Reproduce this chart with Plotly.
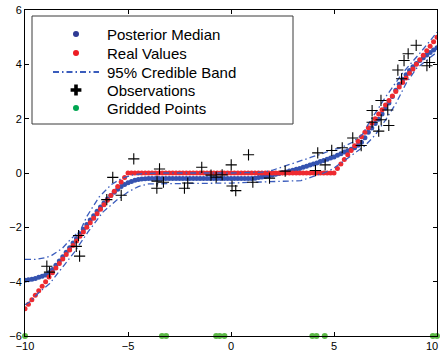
import numpy as np
import plotly.graph_objects as go

# evaluation grid (121 regularly spaced points on [-10, 10])
grid_x = np.linspace(-10, 10, 121)

real_values = [
    -5.0, -4.83, -4.67, -4.5, -4.33, -4.17, -4.0, -3.83, -3.67, -3.5,
    -3.33, -3.17, -3.0, -2.83, -2.67, -2.5, -2.33, -2.17, -2.0, -1.83,
    -1.67, -1.5, -1.33, -1.17, -1.0, -0.83, -0.67, -0.5, -0.33, -0.17,
    0.0, 0.0, 0.0, 0.0, 0.0, 0.0, 0.0, 0.0, 0.0, 0.0,
    0.0, 0.0, 0.0, 0.0, 0.0, 0.0, 0.0, 0.0, 0.0, 0.0,
    0.0, 0.0, 0.0, 0.0, 0.0, 0.0, 0.0, 0.0, 0.0, 0.0,
    0.0, 0.0, 0.0, 0.0, 0.0, 0.0, 0.0, 0.0, 0.0, 0.0,
    0.0, 0.0, 0.0, 0.0, 0.0, 0.0, 0.0, 0.0, 0.0, 0.0,
    0.0, 0.0, 0.0, 0.0, 0.0, 0.0, 0.0, 0.0, 0.0, 0.0,
    0.0, 0.17, 0.33, 0.5, 0.67, 0.83, 1.0, 1.17, 1.33, 1.5,
    1.67, 1.83, 2.0, 2.17, 2.33, 2.5, 2.67, 2.83, 3.0, 3.17,
    3.33, 3.5, 3.67, 3.83, 4.0, 4.17, 4.33, 4.5, 4.67, 4.83,
    5.0,
]

posterior_median = [
    -3.95, -3.93, -3.91, -3.88, -3.84, -3.80, -3.75, -3.67, -3.55, -3.40,
    -3.24, -3.08, -2.92, -2.75, -2.58, -2.41, -2.24, -2.07, -1.90, -1.73,
    -1.57, -1.41, -1.25, -1.10, -0.96, -0.83, -0.71, -0.60, -0.50, -0.42,
    -0.36, -0.31, -0.27, -0.24, -0.22, -0.21, -0.20, -0.20, -0.20, -0.20,
    -0.20, -0.20, -0.20, -0.20, -0.20, -0.20, -0.20, -0.20, -0.20, -0.20,
    -0.20, -0.20, -0.20, -0.20, -0.20, -0.20, -0.20, -0.20, -0.20, -0.20,
    -0.20, -0.20, -0.20, -0.20, -0.20, -0.20, -0.20, -0.19, -0.17, -0.15,
    -0.12, -0.10, -0.07, -0.05, -0.02, 0.01, 0.04, 0.07, 0.10, 0.14,
    0.17, 0.21, 0.25, 0.29, 0.33, 0.37, 0.42, 0.46, 0.51, 0.55,
    0.59, 0.65, 0.71, 0.77, 0.82, 0.87, 0.93, 1.02, 1.13, 1.30,
    1.50, 1.66, 1.82, 1.98, 2.17, 2.38, 2.58, 2.82, 3.05, 3.27,
    3.45, 3.62, 3.77, 3.91, 4.03, 4.14, 4.24, 4.34, 4.44, 4.53,
    4.61,
]

upper_x = [-10, -9.5, -9.0, -8.7, -8.2, -7.8, -7.3, -7.0, -6.4, -5.8, -5.3, -4.8,
           -4.3, -3.5, 0, 1.5, 2.0, 2.9, 3.9, 4.5, 4.9, 5.3, 5.9, 6.4, 6.7, 7.5,
           8.3, 9.2, 10]
upper_y = [-3.18, -3.18, -3.12, -3.03, -2.78, -2.45, -2.1, -1.6, -0.88, -0.42, -0.2,
           -0.08, -0.02, 0.0, 0.0, 0.03, 0.1, 0.34, 0.58, 0.73, 0.85, 0.92, 1.13,
           1.44, 1.85, 2.79, 3.65, 4.44, 5.18]

lower_x = [-10, -9.78, -9.3, -8.8, -8.17, -7.6, -6.95, -6.22, -5.57, -5.0, -4.5,
           -4.0, 0, 2.0, 3.0, 3.4, 3.9, 4.5, 4.94, 5.5, 6.0, 6.5, 7.0, 7.5, 8.0,
           8.5, 9.0, 9.5, 10]
lower_y = [-4.85, -4.75, -4.38, -4.07, -3.46, -2.91, -2.18, -1.44, -1.01, -0.7, -0.5,
           -0.4, -0.37, -0.33, -0.29, -0.28, -0.15, 0.0, 0.15, 0.45, 0.72, 1.0, 1.4,
           1.95, 2.55, 3.3, 3.85, 4.15, 4.45]

obs_x = [-8.94, -8.81, -7.40, -7.51, -7.35, -6.03, -5.74, -5.33, -4.72,
         -3.47, -3.59, -3.28, -3.60, -2.26, -2.10, -1.42, -0.97, -0.72, -0.43,
         0.01, 0.05, 0.23, 0.85, 1.06, 1.87, 2.63, 4.10, 4.21, 4.57, 4.89, 5.40,
         5.91, 6.32, 6.85, 7.17, 7.29, 7.66, 6.85, 7.61, 7.28, 8.28, 8.10, 8.40,
         8.60, 8.99, 9.51, 9.64]
obs_y = [-3.43, -3.65, -2.30, -2.70, -3.06, -0.98, -0.16, -0.82, 0.52,
         0.15, -0.30, -0.34, -0.56, -0.56, -0.37, 0.21, -0.08, -0.15, -0.07,
         0.30, -0.48, -0.65, 0.67, -0.34, -0.19, 0.07, 0.09, 0.74, 0.30, 0.83, 0.93,
         1.29, 1.01, 1.87, 1.54, 1.96, 1.75, 2.30, 2.32, 2.67, 3.47, 3.79, 4.14,
         4.39, 4.70, 3.95, 4.07]

grid_pts_x = [-10, -3.35, -3.15, -0.72, -0.55, -0.32, 3.95, 4.15, 4.55, 9.8, 10]
grid_pts_y = [-6] * len(grid_pts_x)

x_ticks = [-10, -5, 0, 5, 10]
x_tick_text = ["\u221210", "\u22125", "0", "5", ""]   # last label drawn separately below
last_x_label = "10"
y_ticks = [-6, -4, -2, 0, 2, 4, 6]

legend_labels = ["Posterior Median", "Real Values", "95% Credible Band",
                 "Observations", "Gridded Points"]

# ---- styles ----
BLUE = "#3553b0"
RED = "#ee2a30"
BAND = "#3a5cbc"
GREEN = "#5cb946"
LEG_BLUE = "#2e3a94"
LEG_RED = "#ed1c24"
LEG_GREEN = "#00a651"
DASH = "6px,3px,1.5px,3px"
TICK_FONT = dict(family="Liberation Sans", size=11, color="black")

fig = go.Figure()
fig.add_trace(go.Scatter(x=grid_x, y=posterior_median, mode="markers",
                         marker=dict(color=BLUE, size=5, line=dict(width=0))))
fig.add_trace(go.Scatter(x=grid_x, y=real_values, mode="markers",
                         marker=dict(color=RED, size=5, line=dict(width=0))))
fig.add_trace(go.Scatter(x=upper_x, y=upper_y, mode="lines",
                         line=dict(color=BAND, width=1.3, dash=DASH)))
fig.add_trace(go.Scatter(x=lower_x, y=lower_y, mode="lines",
                         line=dict(color=BAND, width=1.3, dash=DASH)))
fig.add_trace(go.Scatter(x=obs_x, y=obs_y, mode="markers",
                         marker=dict(symbol="cross-thin", size=8, color="black",
                                     line=dict(color="black", width=1.1))))
fig.add_trace(go.Scatter(x=grid_pts_x, y=grid_pts_y, mode="markers", cliponaxis=False,
                         marker=dict(color=GREEN, size=6, line=dict(width=0))))

# ---- legend drawn on an overlay axis measured in pixels of the plot area ----
BOX_L, BOX_R, BOX_T, BOX_B = 32, 293, 16, 124
ROWS = [34, 53, 72, 90, 108]
SYM_X, LINE_X0, LINE_X1, TEXT_X = 76, 53, 99, 105

fig.add_trace(go.Scatter(x=[BOX_L, BOX_R, BOX_R, BOX_L, BOX_L],
                         y=[BOX_T, BOX_T, BOX_B, BOX_B, BOX_T],
                         mode="lines", fill="toself", fillcolor="white",
                         line=dict(color="#3a3a3a", width=1),
                         xaxis="x2", yaxis="y2", hoverinfo="skip"))
fig.add_trace(go.Scatter(x=[SYM_X], y=[ROWS[0]], mode="markers", xaxis="x2", yaxis="y2",
                         marker=dict(color=LEG_BLUE, size=6, line=dict(width=0))))
fig.add_trace(go.Scatter(x=[SYM_X], y=[ROWS[1]], mode="markers", xaxis="x2", yaxis="y2",
                         marker=dict(color=LEG_RED, size=6, line=dict(width=0))))
fig.add_trace(go.Scatter(x=[LINE_X0, LINE_X1], y=[ROWS[2], ROWS[2]], mode="lines",
                         xaxis="x2", yaxis="y2",
                         line=dict(color=BAND, width=2, dash=DASH)))
fig.add_trace(go.Scatter(x=[SYM_X], y=[ROWS[3]], mode="markers", xaxis="x2", yaxis="y2",
                         marker=dict(symbol="cross", size=9, color="black",
                                     line=dict(width=0))))
fig.add_trace(go.Scatter(x=[SYM_X], y=[ROWS[4]], mode="markers", xaxis="x2", yaxis="y2",
                         marker=dict(color=LEG_GREEN, size=6, line=dict(width=0))))

annotations = [
    dict(x=TEXT_X, y=row, xref="x2", yref="y2", text=label, showarrow=False,
         xanchor="left", yanchor="middle",
         font=dict(family="Liberation Sans", size=15, color="black"))
    for label, row in zip(legend_labels, ROWS)
]
# last x tick label, kept fully inside the picture (paper coordinates)
annotations.append(dict(x=1.0073, y=-0.0307, xref="paper", yref="paper",
                        text=last_x_label, showarrow=False,
                        xanchor="right", yanchor="middle", font=TICK_FONT))

axis_common = dict(showline=True, linecolor="black", linewidth=1, mirror="ticks",
                   ticks="inside", ticklen=4, tickcolor="black", showgrid=False,
                   zeroline=False, ticklabeloverflow="allow", automargin=False,
                   tickfont=TICK_FONT)

fig.update_layout(
    width=440, height=356,
    margin=dict(l=25, r=3, t=10, b=20, autoexpand=False),
    plot_bgcolor="white", paper_bgcolor="white",
    showlegend=False,
    xaxis=dict(range=[-10, 10], tickvals=x_ticks, ticktext=x_tick_text, **axis_common),
    yaxis=dict(range=[-6, 6], tickvals=y_ticks, **axis_common),
    xaxis2=dict(range=[25, 437], overlaying="x", anchor="y2", visible=False,
                fixedrange=True),
    yaxis2=dict(range=[336, 10], overlaying="y", anchor="x2", visible=False,
                fixedrange=True),
    annotations=annotations,
    hovermode=False,
)

fig.write_html("out.html")
